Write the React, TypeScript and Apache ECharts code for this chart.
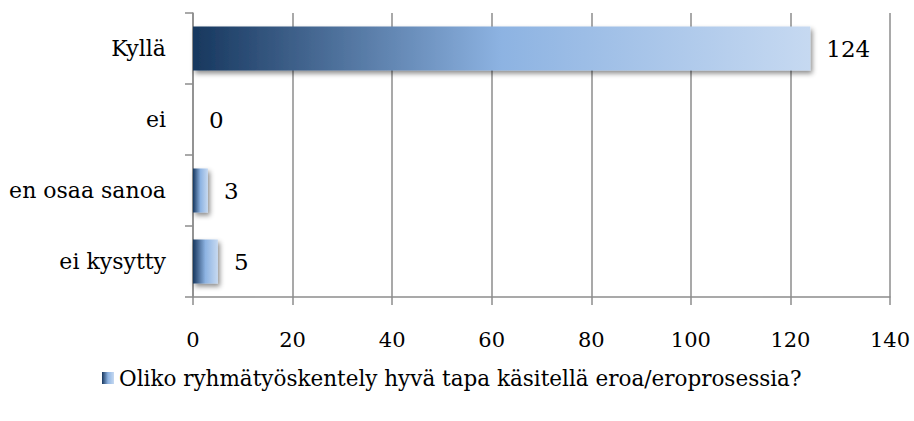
import React, { useEffect, useRef } from "react";
import * as echarts from "echarts";

const categories = ["Kyllä", "ei", "en osaa sanoa", "ei kysytty"];
const counts = [124, 0, 3, 5];
const seriesName = "Oliko ryhmätyöskentely hyvä tapa käsitellä eroa/eroprosessia?";
const xMin = 0;
const xMax = 140;
const xStep = 20;

const FONT = "DejaVu Serif";
const GRID_GRAY = "#8c8c8c";

const barGradient = () =>
  new echarts.graphic.LinearGradient(0, 0, 1, 0, [
    { offset: 0, color: "#17375e" },
    { offset: 0.5, color: "#8db3e2" },
    { offset: 1, color: "#c6d9f1" },
  ]);

export default function App() {
  const ref = useRef<HTMLDivElement>(null);

  useEffect(() => {
    if (!ref.current) return;
    const chart = echarts.init(ref.current, undefined, { renderer: "svg" });
    chart.setOption({
      animation: false,
      backgroundColor: "#ffffff",
      textStyle: { fontFamily: FONT, color: "#000" },
      grid: { left: 193, right: 24, top: 13, bottom: 124, containLabel: false },
      xAxis: {
        type: "value",
        min: xMin,
        max: xMax,
        interval: xStep,
        axisLine: { show: true, lineStyle: { color: GRID_GRAY, width: 1.5 } },
        axisTick: { show: true, length: 8, lineStyle: { color: GRID_GRAY, width: 1.5 } },
        splitLine: { show: true, lineStyle: { color: GRID_GRAY, width: 1.5 } },
        axisLabel: { fontFamily: FONT, fontSize: 21, color: "#000", margin: 32 },
      },
      yAxis: {
        type: "category",
        data: categories,
        inverse: true,
        axisLine: { show: true, lineStyle: { color: GRID_GRAY, width: 1.5 } },
        axisTick: { show: true, length: 8, lineStyle: { color: GRID_GRAY, width: 1.5 } },
        splitLine: { show: false },
        axisLabel: { fontFamily: FONT, fontSize: 22, color: "#000", margin: 27 },
      },
      legend: {
        show: true,
        bottom: 27,
        left: 97,
        icon: "rect",
        itemWidth: 12,
        itemHeight: 12,
        itemGap: 8,
        textStyle: { fontFamily: FONT, fontSize: 21.5, color: "#000" },
        data: [{ name: seriesName, itemStyle: { color: barGradient() } }],
      },
      series: [
        {
          type: "bar",
          name: seriesName,
          data: counts,
          barWidth: "62%",
          itemStyle: {
            color: barGradient(),
            shadowColor: "rgba(0,0,0,0.45)",
            shadowBlur: 5,
            shadowOffsetX: 2,
            shadowOffsetY: 3,
          },
          label: {
            show: true,
            position: "right",
            distance: 16,
            fontFamily: FONT,
            fontSize: 23,
            color: "#000",
          },
        },
      ],
    });
    return () => chart.dispose();
  }, []);

  return (
    <div
      ref={ref}
      style={{ position: "absolute", left: 0, top: 0, width: 914, height: 421 }}
    />
  );
}
